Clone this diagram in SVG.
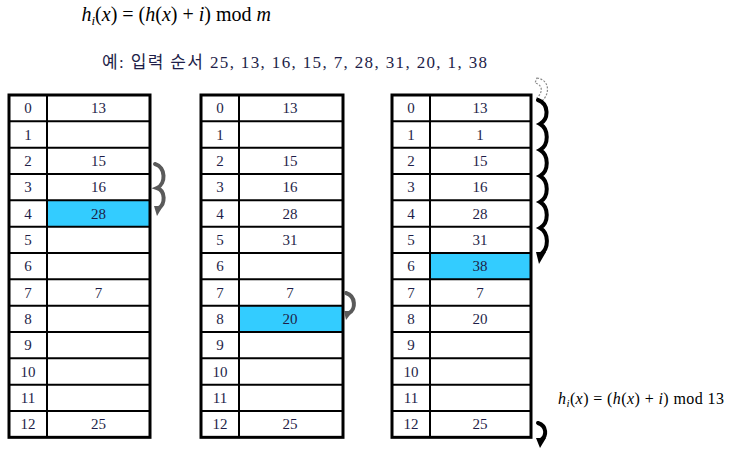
<svg xmlns="http://www.w3.org/2000/svg" width="730" height="456" viewBox="0 0 730 456">
<defs>
<style>
.bg{fill:#ffffff}
.frame{fill:none;stroke:#000;stroke-width:3}
.ln{stroke:#000;stroke-width:2}
.hl{fill:#33ccff}
.t{font-family:"Liberation Serif","Times New Roman",serif;font-size:15px;fill:#1e1e48;text-anchor:middle}
.f{font-family:"Liberation Serif","Times New Roman",serif;fill:#000}
.sub{font-family:"Liberation Serif","Noto Sans CJK KR",serif;font-size:17px;fill:#1e1e48}
.ga{fill:none;stroke:#5a5a5a;stroke-width:4;stroke-linecap:round}
.ba{fill:none;stroke:#000;stroke-width:4;stroke-linecap:round}
</style>
</defs>
<rect class="bg" x="0" y="0" width="730" height="456"/>

<g id="title">
<text class="f" x="271" y="21" font-size="20" text-anchor="end"><tspan font-style="italic">h</tspan><tspan font-style="italic" font-size="13" dy="4">i</tspan><tspan dy="-4">(</tspan><tspan font-style="italic">x</tspan>) = (<tspan font-style="italic">h</tspan>(<tspan font-style="italic">x</tspan>) + <tspan font-style="italic">i</tspan>) mod <tspan font-style="italic">m</tspan></text>
</g>
<g id="subtitle">
<text class="sub" x="102" y="68" textLength="385" lengthAdjust="spacing">예: 입력 순서 25, 13, 16, 15, 7, 28, 31, 20, 1, 38</text>
</g>

<g id="table1">
<rect class="hl" x="47" y="200.33" width="103" height="26.33"/>
<g class="ln">
<line x1="9" y1="121.33" x2="150" y2="121.33"/><line x1="9" y1="147.67" x2="150" y2="147.67"/><line x1="9" y1="174" x2="150" y2="174"/><line x1="9" y1="200.33" x2="150" y2="200.33"/><line x1="9" y1="226.67" x2="150" y2="226.67"/><line x1="9" y1="253" x2="150" y2="253"/><line x1="9" y1="279.33" x2="150" y2="279.33"/><line x1="9" y1="305.67" x2="150" y2="305.67"/><line x1="9" y1="332" x2="150" y2="332"/><line x1="9" y1="358.33" x2="150" y2="358.33"/><line x1="9" y1="384.67" x2="150" y2="384.67"/><line x1="9" y1="411" x2="150" y2="411"/>
<line x1="47" y1="95" x2="47" y2="437.33"/>
</g>
<rect class="frame" x="9" y="95" width="141" height="342.33"/>
<g class="t">
<text x="28" y="113.3">0</text><text x="28" y="139.7">1</text><text x="28" y="166">2</text><text x="28" y="192.3">3</text><text x="28" y="218.7">4</text><text x="28" y="245">5</text><text x="28" y="271.3">6</text><text x="28" y="297.7">7</text><text x="28" y="324">8</text><text x="28" y="350.3">9</text><text x="28" y="376.7">10</text><text x="28" y="403">11</text><text x="28" y="429.3">12</text>
<text x="98.5" y="113.3">13</text><text x="98.5" y="166">15</text><text x="98.5" y="192.3">16</text><text x="98.5" y="218.7">28</text><text x="98.5" y="297.7">7</text><text x="98.5" y="429.3">25</text>
</g>
</g>

<g id="table2">
<rect class="hl" x="239" y="305.67" width="104" height="26.33"/>
<g class="ln">
<line x1="201" y1="121.33" x2="343" y2="121.33"/><line x1="201" y1="147.67" x2="343" y2="147.67"/><line x1="201" y1="174" x2="343" y2="174"/><line x1="201" y1="200.33" x2="343" y2="200.33"/><line x1="201" y1="226.67" x2="343" y2="226.67"/><line x1="201" y1="253" x2="343" y2="253"/><line x1="201" y1="279.33" x2="343" y2="279.33"/><line x1="201" y1="305.67" x2="343" y2="305.67"/><line x1="201" y1="332" x2="343" y2="332"/><line x1="201" y1="358.33" x2="343" y2="358.33"/><line x1="201" y1="384.67" x2="343" y2="384.67"/><line x1="201" y1="411" x2="343" y2="411"/>
<line x1="239" y1="95" x2="239" y2="437.33"/>
</g>
<rect class="frame" x="201" y="95" width="142" height="342.33"/>
<g class="t">
<text x="220" y="113.3">0</text><text x="220" y="139.7">1</text><text x="220" y="166">2</text><text x="220" y="192.3">3</text><text x="220" y="218.7">4</text><text x="220" y="245">5</text><text x="220" y="271.3">6</text><text x="220" y="297.7">7</text><text x="220" y="324">8</text><text x="220" y="350.3">9</text><text x="220" y="376.7">10</text><text x="220" y="403">11</text><text x="220" y="429.3">12</text>
<text x="290" y="113.3">13</text><text x="290" y="166">15</text><text x="290" y="192.3">16</text><text x="290" y="218.7">28</text><text x="290" y="245">31</text><text x="290" y="297.7">7</text><text x="290" y="324">20</text><text x="290" y="429.3">25</text>
</g>
</g>

<g id="table3">
<rect class="hl" x="430" y="253" width="101" height="26.33"/>
<g class="ln">
<line x1="392" y1="121.33" x2="531" y2="121.33"/><line x1="392" y1="147.67" x2="531" y2="147.67"/><line x1="392" y1="174" x2="531" y2="174"/><line x1="392" y1="200.33" x2="531" y2="200.33"/><line x1="392" y1="226.67" x2="531" y2="226.67"/><line x1="392" y1="253" x2="531" y2="253"/><line x1="392" y1="279.33" x2="531" y2="279.33"/><line x1="392" y1="305.67" x2="531" y2="305.67"/><line x1="392" y1="332" x2="531" y2="332"/><line x1="392" y1="358.33" x2="531" y2="358.33"/><line x1="392" y1="384.67" x2="531" y2="384.67"/><line x1="392" y1="411" x2="531" y2="411"/>
<line x1="430" y1="95" x2="430" y2="437.33"/>
</g>
<rect class="frame" x="392" y="95" width="139" height="342.33"/>
<g class="t">
<text x="411" y="113.3">0</text><text x="411" y="139.7">1</text><text x="411" y="166">2</text><text x="411" y="192.3">3</text><text x="411" y="218.7">4</text><text x="411" y="245">5</text><text x="411" y="271.3">6</text><text x="411" y="297.7">7</text><text x="411" y="324">8</text><text x="411" y="350.3">9</text><text x="411" y="376.7">10</text><text x="411" y="403">11</text><text x="411" y="429.3">12</text>
<text x="480" y="113.3">13</text><text x="480" y="139.7">1</text><text x="480" y="166">15</text><text x="480" y="192.3">16</text><text x="480" y="218.7">28</text><text x="480" y="245">31</text><text x="480" y="271.3">38</text><text x="480" y="297.7">7</text><text x="480" y="324">20</text><text x="480" y="429.3">25</text>
</g>
</g>

<g id="connectors">
<path class="ga" d="M155,164 C166,167 166,184 157,188 C166,191 165,204 159,208"/>
<polygon fill="#5a5a5a" points="154,206 163,206 157,216"/>
<path class="ga" d="M346,293 C356,296 356,310 349,313"/>
<polygon fill="#5a5a5a" points="344,311 353,311 346,320"/>
<path fill="none" stroke="#888" stroke-width="1.2" stroke-dasharray="2,1.5" d="M537,78 C550,80 550,94 542,101 L537,98 C543,92 543,85 535,83 Z"/>
<path class="ba" d="M538,100 C549,104 549,119 540,124 C549,129 549,145 540,150 C549,155 549,171 540,176 C549,181 549,197 540,202 C549,207 549,223 540,228 C549,233 549,248 541,254"/>
<polygon fill="#000" points="536,252 546,252 539,264"/>
<path class="ba" d="M538,423 C547,426 547,436 541,440"/>
<polygon fill="#000" points="536,438 546,438 540,448"/>
</g>

<g id="formula">
<text class="f" x="558" y="404" font-size="16" textLength="166" lengthAdjust="spacing"><tspan font-style="italic">h</tspan><tspan font-style="italic" font-size="11" dy="3">i</tspan><tspan dy="-3">(</tspan><tspan font-style="italic">x</tspan>) = (<tspan font-style="italic">h</tspan>(<tspan font-style="italic">x</tspan>) + <tspan font-style="italic">i</tspan>) mod 13</text>
</g>
</svg>
